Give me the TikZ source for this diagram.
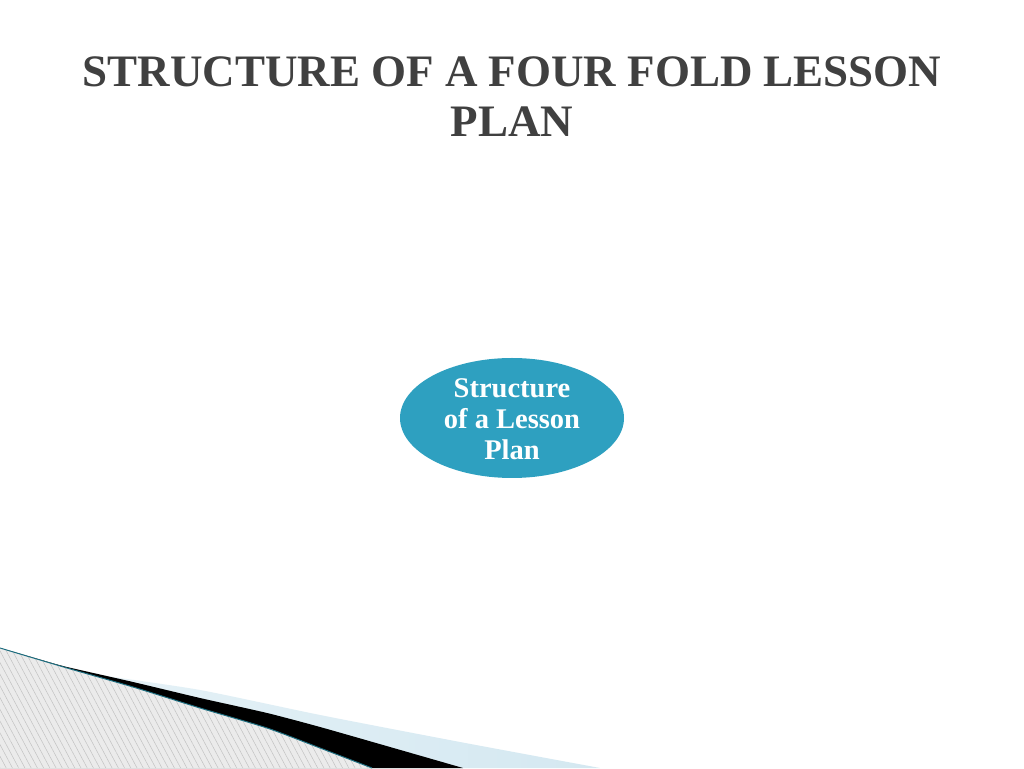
\documentclass[tikz,border=0pt]{standalone}
\usepackage{fontspec}
\setmainfont{Liberation Serif}
\usetikzlibrary{shapes.geometric,patterns.meta}
\definecolor{titlegray}{HTML}{404040}
\definecolor{ovalblue}{HTML}{2EA0C0}
\definecolor{paleblue}{HTML}{D4E8F1}
\definecolor{palerblue}{HTML}{E6F2F7}
\definecolor{hatchbg}{HTML}{EBEBEB}
\definecolor{hatchline}{HTML}{C2C2C2}
\definecolor{tealedge}{HTML}{1E6E80}
\tikzset{
  titletext/.style={anchor=base, text=titlegray, font=\bfseries\fontsize{45}{50}\selectfont, inner sep=0pt},
  oval/.style={ellipse, fill=ovalblue, minimum width=224pt, minimum height=120pt, inner sep=0pt},
  ovaltext/.style={text=white, align=center, font=\bfseries\fontsize{28.5}{31}\selectfont, inner sep=0pt},
  edgecurve/.style={smooth, tension=0.4}
}
\begin{document}
\begin{tikzpicture}[x=1pt,y=1pt]
\useasboundingbox (0,0) rectangle (1024,768);
\fill[white] (0,0) rectangle (1024,768);
% title
\node[titletext] (t1) at (512,681) {STRUCTURE OF A FOUR FOLD LESSON};
\node[titletext] (t2) at (512,631) {PLAN};
% central oval
\node[oval] (oval) at (512,350) {};
\node[ovaltext] (ovaltxt) at (512,349) {Structure\\of a Lesson\\Plan};
% bottom-left decoration
\shade[left color=palerblue, right color=paleblue]
  plot[edgecurve] coordinates {(70,100) (100,93) (200,78) (320,53) (460,26) (600,0)}
  -- (70,0) -- cycle;
\fill[black]
  plot[edgecurve] coordinates {(45,107) (67,101) (133,86) (200,70) (267,55) (320,41) (390,21) (463,0)}
  -- (0,0) -- (0,120) -- cycle;
\fill[hatchbg]
  plot[edgecurve] coordinates {(0,120) (67,100) (133,81) (200,60) (267,40) (320,20) (372,0)}
  -- (0,0) -- cycle;
\fill[pattern={Lines[angle=-62,distance=5.5pt,line width=0.5pt]}, pattern color=hatchline]
  plot[edgecurve] coordinates {(0,120) (67,100) (133,81) (200,60) (267,40) (320,20) (372,0)}
  -- (0,0) -- cycle;
\draw[tealedge, line width=1pt]
  plot[edgecurve] coordinates {(0,120) (67,100) (133,81) (200,60) (267,40) (320,20) (372,0)};
\end{tikzpicture}
\end{document}
